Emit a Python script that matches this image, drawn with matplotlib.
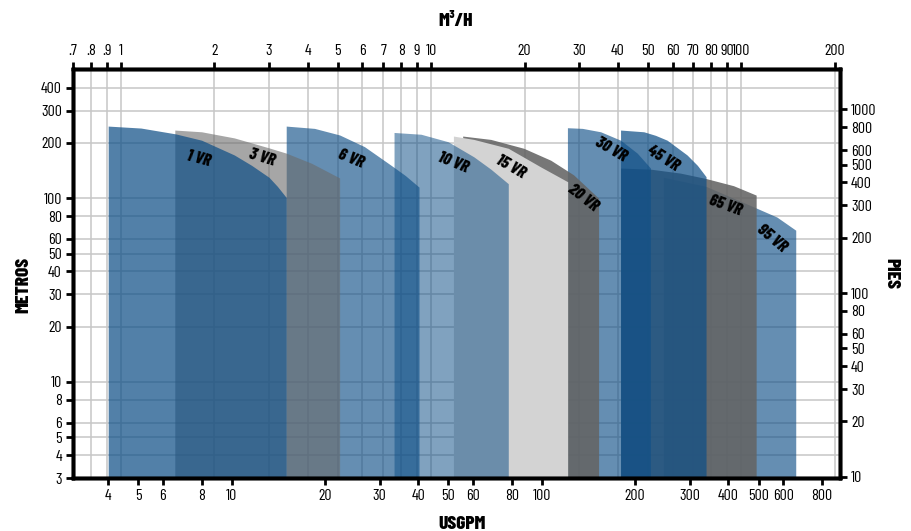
import numpy as np
import matplotlib
matplotlib.use("Agg")
import matplotlib.pyplot as plt
from matplotlib import font_manager

# police etroite si dispo
noms = {f.name for f in font_manager.fontManager.ttflist}
etroit = "Barlow Condensed" if "Barlow Condensed" in noms else "DejaVu Sans"
plt.rcParams["font.family"] = [etroit, "DejaVu Sans"]

GPM_M3H = 4.4029   # USGPM par m3/h
FT_M = 3.28084     # pieds par metre

# courbes des pompes (USGPM, metres)
pompes = ["1 VR", "3 VR", "6 VR", "10 VR", "15 VR", "20 VR", "30 VR", "45 VR", "65 VR", "95 VR"]
q_1vr = [4.0, 5.1, 6.6, 8.0, 10.2, 11.6, 13.2, 14.05, 15.0]
h_1vr = [247, 241, 224, 207, 172, 151, 130, 116, 101]
q_3vr = [6.56, 8.0, 10.2, 13.2, 15.0, 18.1, 22.3]
h_3vr = [235, 230, 213, 188, 176, 155, 129]
q_6vr = [15.0, 18.5, 22.3, 26.8, 32.7, 36.3, 40.2]
h_6vr = [247, 240, 221, 191, 151, 133, 115]
q_10vr = [33.4, 40.8, 49.9, 60.4, 68.5, 78.0]
h_10vr = [228, 223, 203, 168, 144, 120]
q_15vr = [51.9, 60.4, 78.0, 99.3, 121.2]
h_15vr = [218, 209, 187, 148, 123]
q_20vr = [55.6, 68.5, 87.5, 106.9, 126.7, 152.5]
h_20vr = [218, 209, 187, 161, 134, 100]
q_30vr = [121.0, 135.2, 154.8, 179.5, 203.1, 224.1]
h_30vr = [242, 240, 230, 207, 176, 146]
q_45vr = [179.5, 213.3, 232.6, 253.6, 294.1, 317.5, 338.6]
h_45vr = [235, 230, 220, 207, 172, 151, 131]
q_65vr = [179.5, 224.1, 279.9, 338.6, 415.3, 491.2]
h_65vr = [146, 144, 137, 128, 117, 104]
q_95vr = [246.8, 338.6, 491.2, 572.9, 659.0]
h_95vr = [130, 116, 88.5, 79, 67]

courbes_q = [q_1vr, q_3vr, q_6vr, q_10vr, q_15vr, q_20vr, q_30vr, q_45vr, q_65vr, q_95vr]
courbes_h = [h_1vr, h_3vr, h_6vr, h_10vr, h_15vr, h_20vr, h_30vr, h_45vr, h_65vr, h_95vr]

BLEU = "#0f4f87"
couleurs = [BLEU, "#6b6b6b", BLEU, BLEU, "#d3d3d3", "#646464", BLEU, BLEU, "#646464", BLEU]
alphas = [0.72, 0.6, 0.64, 0.53, 1.0, 0.88, 0.64, 0.72, 0.88, 0.64]

# etiquettes (position, angle)
etiq_q = [7.83, 12.5, 24.3, 51.7, 79.5, 135.5, 166.7, 246.8, 390.5, 553]
etiq_h = [165, 167, 165, 157, 149, 100, 183, 165, 91.6, 60.4]
etiq_rot = [-15, -17, -22, -22, -30, -38, -30, -32, -20, -40]

# graduations
x_gpm = [4, 5, 6, 8, 10, 20, 30, 40, 50, 60, 80, 100, 200, 300, 400, 500, 600, 800]
x_m3h = [0.7, 0.8, 0.9, 1, 2, 3, 4, 5, 6, 7, 8, 9, 10, 20, 30, 40, 50, 60, 70, 80, 90, 100, 200]
x_m3h_lab = [".7", ".8", ".9", "1", "2", "3", "4", "5", "6", "7", "8", "9", "10",
             "20", "30", "40", "50", "60", "70", "80", "90", "100", "200"]
y_m = [3, 4, 5, 6, 8, 10, 20, 30, 40, 50, 60, 80, 100, 200, 300, 400]
y_ft = [10, 20, 30, 40, 50, 60, 80, 100, 200, 300, 400, 500, 600, 800, 1000]

xlim = (3.08, 915)
ylim = (3, 505)

fig = plt.figure(figsize=(9.11, 5.31), dpi=100)
ax = fig.add_axes([0.0801, 0.0998, 0.8419, 0.7702])
ax.set_xscale("log")
ax.set_yscale("log")
ax.set_xlim(xlim)
ax.set_ylim(ylim)

# grille
gris = "#c6c6c6"
ax.vlines(np.array(x_m3h) * GPM_M3H, ylim[0], ylim[1], color=gris, lw=1.1, zorder=0)
ax.hlines(y_m, xlim[0], xlim[1], color=gris, lw=1.1, zorder=0)

# zones : de droite a gauche, la plus a gauche au-dessus
for i in range(len(pompes) - 1, -1, -1):
    ax.fill_between(courbes_q[i], courbes_h[i], 1, color=couleurs[i], alpha=alphas[i],
                    lw=0, zorder=2 + (len(pompes) - i))

for i in range(len(pompes)):
    ax.text(etiq_q[i], etiq_h[i], pompes[i], rotation=etiq_rot[i], ha="center", va="center",
            fontsize=12, fontweight=800, fontstyle="italic", color="black",
            rotation_mode="anchor", zorder=30)

for s in ax.spines.values():
    s.set_linewidth(2.5)
    s.set_zorder(40)

ax.set_xticks(x_gpm)
ax.set_xticklabels([str(v) for v in x_gpm])
ax.set_yticks(y_m)
ax.set_yticklabels([str(v) for v in y_m])
ax.minorticks_off()
ax.tick_params(direction="out", length=5, width=2, labelsize=11.5, pad=3)

# axe du haut m3/h
axh = ax.twiny()
axh.set_xscale("log")
axh.set_xlim(xlim[0] / GPM_M3H, xlim[1] / GPM_M3H)
axh.set_xticks(x_m3h)
axh.set_xticklabels(x_m3h_lab)
axh.minorticks_off()
axh.tick_params(direction="out", length=5, width=2, labelsize=11.5, pad=3)

# axe de droite pieds
axd = ax.twinx()
axd.set_yscale("log")
axd.set_ylim(ylim[0] * FT_M, ylim[1] * FT_M)
axd.set_yticks(y_ft)
axd.set_yticklabels([str(v) for v in y_ft])
axd.minorticks_off()
axd.tick_params(direction="out", length=5, width=2, labelsize=11.5, pad=3)
for a in (axh, axd):
    for s in a.spines.values():
        s.set_linewidth(2.5)

fig.text(0.026, 0.463, "METROS", rotation=90, ha="center", va="center",
         fontsize=14, fontweight="heavy")
fig.text(0.978, 0.484, "PIES", rotation=270, ha="center", va="center",
         fontsize=14, fontweight="heavy")
fig.text(0.507, 0.014, "USGPM", ha="center", va="center", fontsize=14, fontweight="heavy")
fig.text(0.500, 0.961, "M³/H", ha="center", va="center", fontsize=14, fontweight="heavy")

fig.savefig("out.png", dpi=100)
